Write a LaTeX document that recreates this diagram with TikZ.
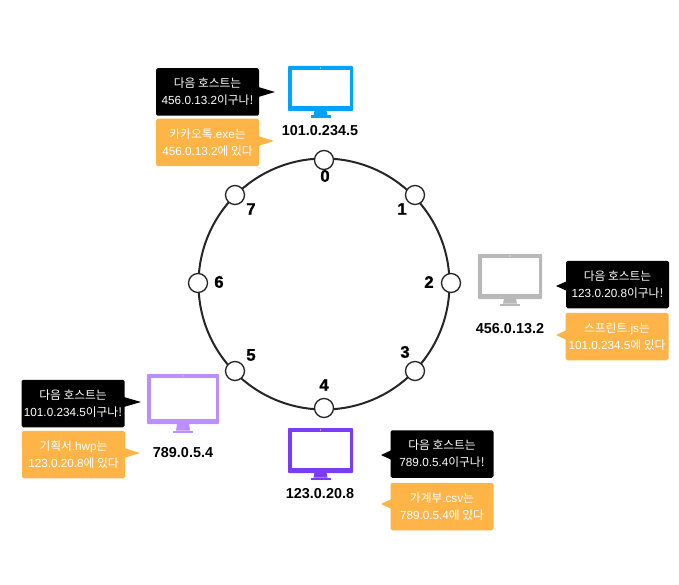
\documentclass[tikz,border=0pt]{standalone}
\usepackage{fontspec}
\setmainfont{Liberation Sans}
\newfontfamily\kr{Noto Sans CJK KR}
\newcommand{\K}[1]{{\kr #1}}
\definecolor{oran}{HTML}{FFB448}
\definecolor{mblue}{HTML}{00A2FF}
\definecolor{mgrey}{HTML}{B8B8B8}
\definecolor{mlilac}{HTML}{BB8FFF}
\definecolor{mviolet}{HTML}{7A3DF5}
\tikzset{
  ringnode/.style={circle,draw=black!85,line width=1pt,fill=white,minimum size=19*0.75pt,inner sep=0pt},
  ringnum/.style={font=\fontsize{12.5}{13}\selectfont\bfseries\addfontfeature{FakeBold=1.2},inner sep=0pt},
  iplabel/.style={font=\fontsize{10.8}{12}\selectfont\bfseries,inner sep=0pt},
  msgbox/.style={rectangle,rounded corners=1.2pt,inner sep=0pt,align=center,text=white,
    font=\fontsize{8.8}{12.9}\selectfont,minimum width=103*0.75pt,minimum height=47.5*0.75pt},
  nextbox/.style={msgbox,fill=black},
  filebox/.style={msgbox,fill=oran},
}
% name, left, top, right, bottom of frame, bottom of foot, colour
\newcommand{\monitor}[7]{%
  \fill[#7,rounded corners=0.6pt] (#2,#3) rectangle (#4,#5);
  \fill[white] ({#2+4},{#3+4}) rectangle ({#4-3.5},{#5-5});
  \fill[#7] ({(#2+#4)/2-6},#5) -- ({(#2+#4)/2+6},#5) -- ({(#2+#4)/2+7},{#6-2.5}) -- ({(#2+#4)/2-7},{#6-2.5}) -- cycle;
  \fill[#7] ({(#2+#4)/2-10},{#6-2.5}) rectangle ({(#2+#4)/2+10},#6);
  \coordinate (#1) at ({(#2+#4)/2},{(#3+#5)/2});
}
% box node, tip x, tip y, colour
\newcommand{\tip}[4]{\fill[#4] ([xshift=-2pt]#1.east |- 0,{#3-5.5}) -- (#2,#3) -- ([xshift=-2pt]#1.east |- 0,{#3+5.5}) -- cycle;}
\newcommand{\tipL}[4]{\fill[#4] ([xshift=2pt]#1.west |- 0,{#3-5.5}) -- (#2,#3) -- ([xshift=2pt]#1.west |- 0,{#3+5.5}) -- cycle;}
\begin{document}
\begin{tikzpicture}[x=0.75pt,y=-0.75pt]
\useasboundingbox (0,0) rectangle (679,585);
\fill[white] (0,0) rectangle (679,585);
% ring
\coordinate (ringc) at (324,284);
\draw[black!85,line width=1.5pt] (ringc) circle[radius=125.5];
\foreach \n/\x/\y in {a0/324/160,a1/415/195,a2/451/283,a3/415/371,a4/324/408,a5/235/371,a6/198/283,a7/235/195}
  \node[ringnode] (\n) at (\x,\y) {};
\foreach \n/\t/\x/\y in {n0/0/325/176,n1/1/402/209,n2/2/429/282,n3/3/405/352,n4/4/324/385,n5/5/251/355,n6/6/219/282,n7/7/251/209}
  \node[ringnum] (\n) at (\x,\y) {\t};
% monitors
\monitor{m0}{288}{66}{353}{111}{118}{mblue}
\monitor{m2}{478}{254}{542}{299}{306}{mgrey}
\monitor{m5}{147}{374}{219}{424}{433}{mlilac}
\monitor{m4}{288}{428}{353}{473}{480}{mviolet}
\fill[white] (320.5,68) circle[radius=0.6];
\fill[white] (510,256) circle[radius=0.6];
\fill[white] (183,376) circle[radius=0.6];
\fill[white] (320.5,430) circle[radius=0.6];
% address labels
\node[iplabel] (ip0) at (320,131) {101.0.234.5};
\node[iplabel] (ip2) at (510,329) {456.0.13.2};
\node[iplabel] (ip5) at (183,453) {789.0.5.4};
\node[iplabel] (ip4) at (320,494) {123.0.20.8};
% top-left
\node[nextbox] (b0) at (207.5,92) {\K{다음 호스트는}\\456.0.13.2\K{이구나!}};
\tip{b0}{275}{92}{black}
\node[filebox] (f0) at (207.5,142.5) {\K{카카오톡}.exe\K{는}\\456.0.13.2\K{에 있다}};
\tip{f0}{274}{141}{oran}
% right
\node[nextbox] (b2) at (617.5,284.5) {\K{다음 호스트는}\\123.0.20.8\K{이구나!}};
\tipL{b2}{556}{286}{black}
\node[filebox] (f2) at (617,336.5) {\K{스프린트}.js\K{는}\\101.0.234.5\K{에 있다}};
\tipL{f2}{556}{335}{oran}
% left
\node[nextbox] (b5) at (73,403.5) {\K{다음 호스트는}\\101.0.234.5\K{이구나!}};
\tip{b5}{141}{402}{black}
\node[filebox] (f5) at (73.5,454.5) {\K{기획서}.hwp\K{는}\\123.0.20.8\K{에 있다}};
\tip{f5}{140}{453}{oran}
% bottom
\node[nextbox] (b4) at (442,454) {\K{다음 호스트는}\\789.0.5.4\K{이구나!}};
\tipL{b4}{381}{455}{black}
\node[filebox] (f4) at (442,506.5) {\K{가계부}.csv\K{는}\\789.0.5.4\K{에 있다}};
\tipL{f4}{381}{504}{oran}
\end{tikzpicture}
\end{document}
